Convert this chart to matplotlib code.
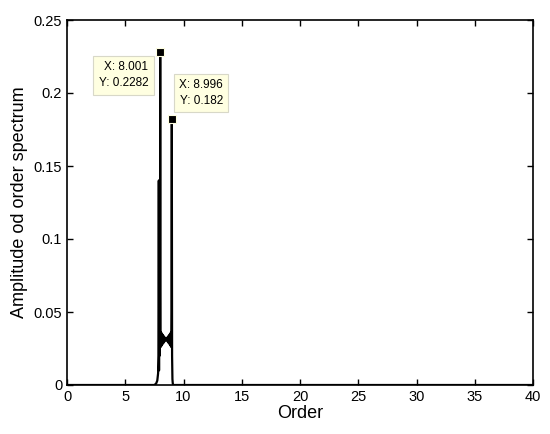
import matplotlib
matplotlib.use('Agg')
import matplotlib.pyplot as plt

plt.rcParams['font.family'] = ['Liberation Sans', 'DejaVu Sans']

# order spectrum (dense ripple drawn as zig-zag points)
order = [0, 7.5, 7.65, 7.75, 7.82, 7.86, 7.88, 7.9, 7.92, 7.94, 7.96, 7.98, 8.001,
         8.02, 8.04, 8.08, 8.12, 8.16, 8.2, 8.25, 8.3, 8.35, 8.4, 8.45, 8.5,
         8.55, 8.6, 8.65, 8.7, 8.75, 8.8, 8.84, 8.88, 8.92, 8.95, 8.97, 8.996,
         9.02, 9.05, 9.08, 9.12, 40]
amp = [0, 0, 0.001, 0.003, 0.008, 0.02, 0.14, 0.01, 0.14, 0.02, 0.14, 0.03, 0.2282,
       0.036, 0.026, 0.036, 0.027, 0.035, 0.028, 0.034, 0.029, 0.033, 0.03, 0.032, 0.031,
       0.032, 0.03, 0.033, 0.029, 0.034, 0.028, 0.035, 0.027, 0.036, 0.026, 0.05, 0.182,
       0.02, 0.004, 0.001, 0, 0]

tips = [(8.001, 0.2282), (8.996, 0.182)]
tip_offsets = [(-26.5, -17), (21, 19)]

fig = plt.figure(figsize=(5.5, 4.34), dpi=100)
ax = fig.add_axes([67 / 550, 49 / 434, 466 / 550, 365 / 434])

ax.plot(order, amp, color='black', lw=1.6)

for (tx, ty), off in zip(tips, tip_offsets):
    ax.plot(tx, ty, marker='s', ms=6, mfc='black', mec='#ffffe0', mew=0.8, zorder=5)
    ax.annotate('X: %s\nY: %s' % (tx, ty), (tx, ty), xytext=off,
                textcoords='offset points', ha='center', va='center',
                multialignment='right', fontsize=8.5, linespacing=1.45,
                bbox=dict(boxstyle='square,pad=0.45', fc='#ffffe1', ec='#d8d8c8', lw=0.8),
                zorder=6)

ax.set_xlim(0, 40)
ax.set_ylim(0, 0.25)
ax.set_xticks(range(0, 41, 5))
ax.set_yticks([0, 0.05, 0.1, 0.15, 0.2, 0.25])
ax.set_yticklabels(['0', '0.05', '0.1', '0.15', '0.2', '0.25'])
ax.tick_params(direction='in', top=True, right=True, labelsize=10.5, length=4, width=1)
for s in ax.spines.values():
    s.set_linewidth(1.2)

ax.set_xlabel('Order', fontsize=13, labelpad=1)
ax.set_ylabel('Amplitude od order spectrum', fontsize=13, labelpad=4)

fig.savefig('out.png', dpi=100)
